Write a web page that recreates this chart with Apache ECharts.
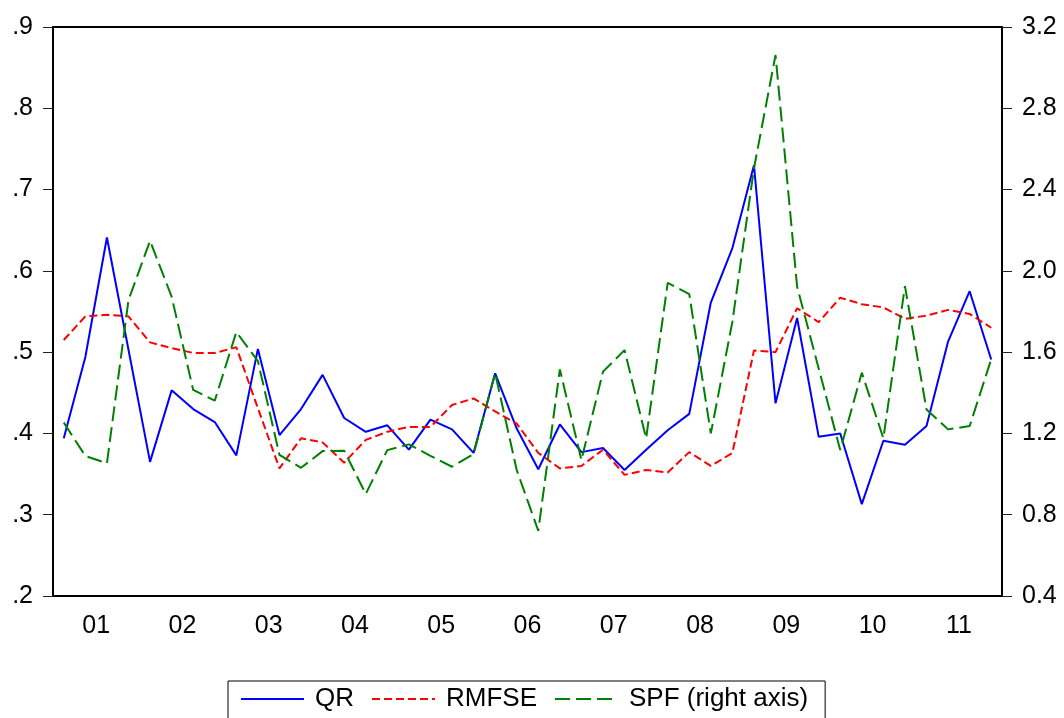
<!DOCTYPE html>
<html>
<head>
<meta charset="utf-8">
<script src="https://cdn.jsdelivr.net/npm/echarts@6/dist/echarts.min.js"></script>
<style>
  html, body { margin: 0; padding: 0; background: #fff; }
  #chart { width: 1064px; height: 718px; }
</style>
</head>
<body>
<div id="chart"></div>
<script>
// quarterly data, 2001Q1 .. 2011Q4
const years = ['01', '02', '03', '04', '05', '06', '07', '08', '09', '10', '11'];
const quarters = years.flatMap(y => ['Q1', 'Q2', 'Q3', 'Q4'].map(q => '20' + y + q));

const qr = [
  0.394, 0.494, 0.641, 0.503, 0.365, 0.453, 0.430, 0.414, 0.373, 0.504, 0.398,
  0.430, 0.472, 0.419, 0.402, 0.410, 0.380, 0.417, 0.405, 0.376, 0.474, 0.406,
  0.356, 0.411, 0.377, 0.382, 0.355, 0.380, 0.404, 0.424, 0.561, 0.628, 0.730,
  0.437, 0.542, 0.396, 0.400, 0.313, 0.391, 0.386, 0.409, 0.513, 0.575, 0.491
];
const rmfse = [
  0.515, 0.544, 0.546, 0.544, 0.512, 0.505, 0.499, 0.499, 0.506, 0.431, 0.357,
  0.394, 0.389, 0.364, 0.392, 0.402, 0.408, 0.408, 0.435, 0.443, 0.427, 0.412,
  0.376, 0.357, 0.360, 0.380, 0.349, 0.355, 0.352, 0.377, 0.360, 0.376, 0.502,
  0.500, 0.554, 0.537, 0.567, 0.559, 0.555, 0.541, 0.545, 0.552, 0.547, 0.530
];
const spf = [
  1.253, 1.089, 1.053, 1.856, 2.148, 1.873, 1.414, 1.361, 1.699, 1.556, 1.094,
  1.031, 1.113, 1.115, 0.902, 1.118, 1.146, 1.090, 1.036, 1.099, 1.496, 1.020,
  0.721, 1.515, 1.069, 1.504, 1.610, 1.176, 1.941, 1.886, 1.200, 1.750, 2.505,
  3.062, 1.922, 1.520, 1.118, 1.499, 1.176, 1.925, 1.318, 1.220, 1.236, 1.565
];

const FONT = 'Liberation Sans, Arial, sans-serif';
const chart = echarts.init(document.getElementById('chart'));

const option = {
  backgroundColor: '#fff',
  animation: false,
  grid: { left: 53, right: 62, top: 27, bottom: 122, show: true, borderColor: '#000', borderWidth: 2 },
  legend: {
    left: 228, top: 681,
    padding: [5, 17, 30, 12],
    borderColor: '#000', borderWidth: 1,
    itemWidth: 63, itemHeight: 14, itemGap: 17,
    itemStyle: { opacity: 0 },
    textStyle: { fontFamily: FONT, fontSize: 26, color: '#000', padding: [0, 0, 0, 6] },
    data: ['QR', 'RMFSE', 'SPF (right axis)']
  },
  xAxis: [
    {
      type: 'category', data: quarters, position: 'bottom',
      axisLine: { lineStyle: { color: '#000', width: 2 } },
      axisTick: { interval: 0, length: 7, lineStyle: { color: '#222', width: 1 } },
      axisLabel: { show: false }
    },
    {
      type: 'category', data: years, position: 'bottom',
      axisLine: { show: false },
      axisTick: { interval: 0, length: 13, lineStyle: { color: '#222', width: 1.5 } },
      axisLabel: { interval: 0, margin: 18, fontFamily: FONT, fontSize: 25, color: '#000' }
    }
  ],
  yAxis: [
    {
      type: 'value', min: 0.2, max: 0.9, interval: 0.1, position: 'left',
      splitLine: { show: false },
      axisLine: { show: true, lineStyle: { color: '#000', width: 2 } },
      axisTick: { show: true, length: 10, lineStyle: { color: '#222' } },
      axisLabel: {
        margin: 20, fontFamily: FONT, fontSize: 25, color: '#000',
        formatter: v => v.toFixed(1).replace(/^0/, '')
      }
    },
    {
      type: 'value', min: 0.4, max: 3.2, interval: 0.4, position: 'right',
      splitLine: { show: false },
      axisLine: { show: true, lineStyle: { color: '#000', width: 2 } },
      axisTick: { show: true, length: 10, lineStyle: { color: '#222' } },
      axisLabel: {
        margin: 20, fontFamily: FONT, fontSize: 25, color: '#000',
        formatter: v => v.toFixed(1)
      }
    }
  ],
  series: [
    {
      name: 'QR', type: 'line', data: qr, xAxisIndex: 0, yAxisIndex: 0,
      symbol: 'none', color: '#0000ff',
      lineStyle: { width: 2, color: '#0000ff' }
    },
    {
      name: 'RMFSE', type: 'line', data: rmfse, xAxisIndex: 0, yAxisIndex: 0,
      symbol: 'none', color: '#ff0000',
      lineStyle: { width: 2, color: '#ff0000', type: [8, 4] }
    },
    {
      name: 'SPF (right axis)', type: 'line', data: spf, xAxisIndex: 0, yAxisIndex: 1,
      symbol: 'none', color: '#008000',
      lineStyle: { width: 2, color: '#008000', type: [15, 6] }
    }
  ]
};

chart.setOption(option);
</script>
</body>
</html>
